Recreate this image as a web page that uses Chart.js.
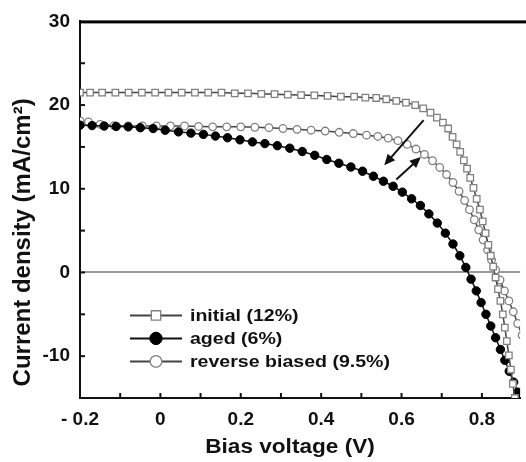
<!DOCTYPE html>
<html>
<head>
<meta charset="utf-8">
<script src="https://cdn.jsdelivr.net/npm/chart.js@4.4.0/dist/chart.umd.min.js"></script>
<style>
  html, body { margin: 0; padding: 0; background: #fff; }
  #wrap { width: 526px; height: 462px; }
</style>
</head>
<body>
<div id="wrap"><canvas id="jv"></canvas></div>
<script>
// J-V curves (V in volts, J in mA/cm2)
const initialV = [-0.2, -0.175, -0.145, -0.112, -0.079, -0.046, -0.013, 0.02, 0.053, 0.086, 0.119, 0.152, 0.185, 0.218, 0.251, 0.284, 0.317, 0.35, 0.383, 0.416, 0.449, 0.482, 0.51, 0.537, 0.562, 0.587, 0.611, 0.634, 0.654, 0.672, 0.688, 0.703, 0.716, 0.727, 0.737, 0.746, 0.755, 0.763, 0.771, 0.779, 0.787, 0.795, 0.802, 0.809, 0.816, 0.822, 0.828, 0.834, 0.84, 0.846, 0.852, 0.857, 0.862, 0.867, 0.872, 0.877, 0.882];
const initialJ = [21.5, 21.5, 21.5, 21.5, 21.5, 21.5, 21.5, 21.5, 21.5, 21.5, 21.5, 21.5, 21.4, 21.4, 21.35, 21.3, 21.25, 21.2, 21.15, 21.1, 21.0, 21.0, 20.9, 20.85, 20.7, 20.5, 20.3, 20.0, 19.6, 19.1, 18.5, 17.9, 17.2, 16.2, 15.3, 14.4, 13.4, 12.4, 11.3, 10.1, 8.8, 7.5, 6.1, 4.7, 3.3, 2.0, 0.7, -0.6, -2.0, -3.4, -5.0, -6.6, -8.2, -9.9, -11.6, -13.3, -15.0];

const agedV = [-0.2, -0.17, -0.14, -0.11, -0.08, -0.05, -0.018, 0.012, 0.045, 0.076, 0.107, 0.137, 0.167, 0.198, 0.229, 0.26, 0.291, 0.322, 0.353, 0.384, 0.414, 0.444, 0.474, 0.503, 0.53, 0.555, 0.579, 0.602, 0.625, 0.647, 0.668, 0.689, 0.709, 0.728, 0.745, 0.76, 0.773, 0.786, 0.798, 0.81, 0.822, 0.834, 0.846, 0.857, 0.868, 0.879, 0.889, 0.899];
const agedJ = [17.6, 17.55, 17.5, 17.45, 17.4, 17.3, 17.2, 17.0, 16.8, 16.65, 16.5, 16.3, 16.1, 15.85, 15.6, 15.4, 15.15, 14.85, 14.45, 14.0, 13.5, 13.05, 12.6, 12.1, 11.5, 10.9, 10.3, 9.6, 8.8, 8.0, 7.0, 5.9, 4.7, 3.4, 2.0, 0.6, -0.8, -2.2, -3.6, -5.0, -6.4, -7.8, -9.2, -10.5, -11.8, -13.1, -14.3, -15.5];

const reverseV = [-0.2, -0.179, -0.15, -0.115, -0.08, -0.045, -0.01, 0.025, 0.06, 0.095, 0.13, 0.165, 0.2, 0.235, 0.27, 0.305, 0.34, 0.375, 0.41, 0.445, 0.48, 0.513, 0.541, 0.567, 0.591, 0.614, 0.636, 0.657, 0.677, 0.695, 0.712, 0.728, 0.743, 0.757, 0.769, 0.781, 0.792, 0.803, 0.814, 0.824, 0.834, 0.845, 0.856, 0.867, 0.878, 0.889, 0.9];
const reverseJ = [18.1, 18.0, 17.7, 17.55, 17.5, 17.5, 17.5, 17.5, 17.5, 17.45, 17.4, 17.4, 17.4, 17.35, 17.3, 17.2, 17.1, 17.0, 16.9, 16.75, 16.6, 16.4, 16.25, 16.05, 15.75, 15.3, 14.75, 14.1, 13.35, 12.55, 11.7, 10.75, 9.7, 8.6, 7.5, 6.3, 5.1, 3.9, 2.7, 1.5, 0.3, -0.9, -2.2, -3.4, -4.7, -6.1, -7.5];

const seriesNames = ['initial (12%)', 'aged (6%)', 'reverse biased (9.5%)'];

// axes
const xTickValues = [-0.2, 0, 0.2, 0.4, 0.6, 0.8];
const xTickLabels = ['- 0.2', '0', '0.2', '0.4', '0.6', '0.8'];
const yTickValues = [-10, 0, 10, 20, 30];
const yTickLabels = ['-10', '0', '10', '20', '30'];
const xTitle = 'Bias voltage (V)';
const yTitle = 'Current density (mA/cm\u00B2)';

// the two arrows drawn between the curves, in data units
const arrowFrom = [[0.655, 18.2], [0.587, 11.1]];
const arrowTo = [[0.557, 12.8], [0.648, 13.8]];

const FONT = "'Liberation Sans', Arial, Helvetica, sans-serif";

function pairs(xs, ys) {
  return xs.map((v, i) => ({ x: v, y: ys[i] }));
}

function scaledText(ctx, txt, x, y, sx) {
  ctx.save();
  ctx.translate(x, y);
  ctx.scale(sx, 1);
  ctx.fillText(txt, 0, 0);
  ctx.restore();
}

const decor = {
  id: 'decor',
  afterDraw(chart) {
    const { ctx, chartArea: a, scales: { x, y } } = chart;
    ctx.save();

    // top frame line
    ctx.fillStyle = '#000';
    ctx.fillRect(a.left - 1, a.top - 1, chart.width - a.left + 1, 3);

    // small inward tick marks
    ctx.strokeStyle = '#111';
    ctx.lineWidth = 2;
    for (let i = -1; i <= 8; i++) {
      const px = x.getPixelForValue(i / 10);
      ctx.beginPath();
      ctx.moveTo(px, a.bottom);
      ctx.lineTo(px, a.bottom - 5);
      ctx.stroke();
    }
    for (let v = -10; v < 30; v += 5) {
      const py = y.getPixelForValue(v);
      ctx.beginPath();
      ctx.moveTo(a.left, py);
      ctx.lineTo(a.left + 5, py);
      ctx.stroke();
    }

    // arrows
    ctx.fillStyle = '#111';
    arrowFrom.forEach((f, i) => {
      const x0 = x.getPixelForValue(f[0]), y0 = y.getPixelForValue(f[1]);
      const x1 = x.getPixelForValue(arrowTo[i][0]), y1 = y.getPixelForValue(arrowTo[i][1]);
      const ang = Math.atan2(y1 - y0, x1 - x0);
      const hl = 11, hw = 5;
      ctx.beginPath();
      ctx.moveTo(x0, y0);
      ctx.lineTo(x1 - hl * 0.8 * Math.cos(ang), y1 - hl * 0.8 * Math.sin(ang));
      ctx.stroke();
      ctx.beginPath();
      ctx.moveTo(x1, y1);
      ctx.lineTo(x1 - hl * Math.cos(ang) + hw * Math.sin(ang), y1 - hl * Math.sin(ang) - hw * Math.cos(ang));
      ctx.lineTo(x1 - hl * Math.cos(ang) - hw * Math.sin(ang), y1 - hl * Math.sin(ang) + hw * Math.cos(ang));
      ctx.closePath();
      ctx.fill();
    });

    // legend inside the plot
    ctx.font = 'bold 17px ' + FONT;
    ctx.textBaseline = 'middle';
    ctx.textAlign = 'left';
    chart.data.datasets.forEach((ds, i) => {
      const ry = a.top + 294 + i * 23;
      ctx.strokeStyle = ds.borderColor;
      ctx.lineWidth = 2;
      ctx.beginPath();
      ctx.moveTo(a.left + 50, ry);
      ctx.lineTo(a.left + 102, ry);
      ctx.stroke();
      ctx.fillStyle = ds.pointBackgroundColor;
      ctx.strokeStyle = ds.pointBorderColor;
      ctx.lineWidth = ds.pointBorderWidth;
      Chart.helpers.drawPoint(ctx, { pointStyle: ds.pointStyle, radius: ds.pointRadius + 2, borderWidth: ds.pointBorderWidth, rotation: 0 }, a.left + 76, ry);
      ctx.fillStyle = '#111';
      scaledText(ctx, ds.label, a.left + 110, ry + 1, 1.15);
    });

    // axis titles
    ctx.fillStyle = '#111';
    ctx.textAlign = 'center';
    ctx.font = 'bold 20px ' + FONT;
    scaledText(ctx, xTitle, a.left + 210, a.bottom + 49, 1.13);
    ctx.save();
    ctx.translate(a.left - 57, a.top + 221);
    ctx.rotate(-Math.PI / 2);
    ctx.font = 'bold 24px ' + FONT;
    ctx.fillText(yTitle, 0, 0);
    ctx.restore();

    ctx.restore();
  }
};

new Chart(document.getElementById('jv'), {
  type: 'scatter',
  data: {
    datasets: [{
      label: seriesNames[0],
      data: pairs(initialV, initialJ),
      showLine: true,
      borderColor: '#444',
      borderWidth: 1.5,
      pointStyle: 'rect',
      pointRadius: 4.6,
      pointBackgroundColor: '#fff',
      pointBorderColor: '#808080',
      pointBorderWidth: 1.3
    }, {
      label: seriesNames[1],
      data: pairs(agedV, agedJ),
      showLine: true,
      borderColor: '#111',
      borderWidth: 1.5,
      pointStyle: 'circle',
      pointRadius: 4.2,
      pointBackgroundColor: '#000',
      pointBorderColor: '#000',
      pointBorderWidth: 1
    }, {
      label: seriesNames[2],
      data: pairs(reverseV, reverseJ),
      showLine: true,
      borderColor: '#444',
      borderWidth: 1.5,
      pointStyle: 'circle',
      pointRadius: 3.8,
      pointBackgroundColor: '#fff',
      pointBorderColor: '#808080',
      pointBorderWidth: 1.3
    }]
  },
  options: {
    responsive: true,
    maintainAspectRatio: false,
    animation: false,
    layout: { padding: { top: 16, left: 0, right: 0, bottom: 0 } },
    plugins: { legend: { display: false }, tooltip: { enabled: false } },
    scales: {
      x: {
        type: 'linear',
        min: -0.2,
        max: 0.895,
        afterBuildTicks: s => { s.ticks = xTickValues.map(v => ({ value: v })); },
        afterFit: s => { s.height = 64; },
        ticks: {
          padding: 10,
          color: '#111',
          font: { family: FONT, size: 19, weight: 'bold' },
          maxRotation: 0,
          callback: v => xTickLabels[xTickValues.findIndex(t => Math.abs(t - v) < 1e-6)]
        },
        grid: { drawTicks: false, color: 'rgba(0,0,0,0)' },
        border: { color: '#111', width: 2 }
      },
      y: {
        type: 'linear',
        min: -15,
        max: 30,
        afterBuildTicks: s => { s.ticks = yTickValues.map(v => ({ value: v })); },
        afterFit: s => { s.width = 80; },
        ticks: {
          padding: 10,
          color: '#111',
          font: { family: FONT, size: 19, weight: 'bold' },
          callback: v => yTickLabels[yTickValues.indexOf(v)]
        },
        grid: {
          drawTicks: false,
          color: c => c.tick.value === 0 ? '#9a9a9a' : 'rgba(0,0,0,0)',
          lineWidth: 2
        },
        border: { color: '#111', width: 2 }
      }
    }
  },
  plugins: [decor]
});
</script>
</body>
</html>
